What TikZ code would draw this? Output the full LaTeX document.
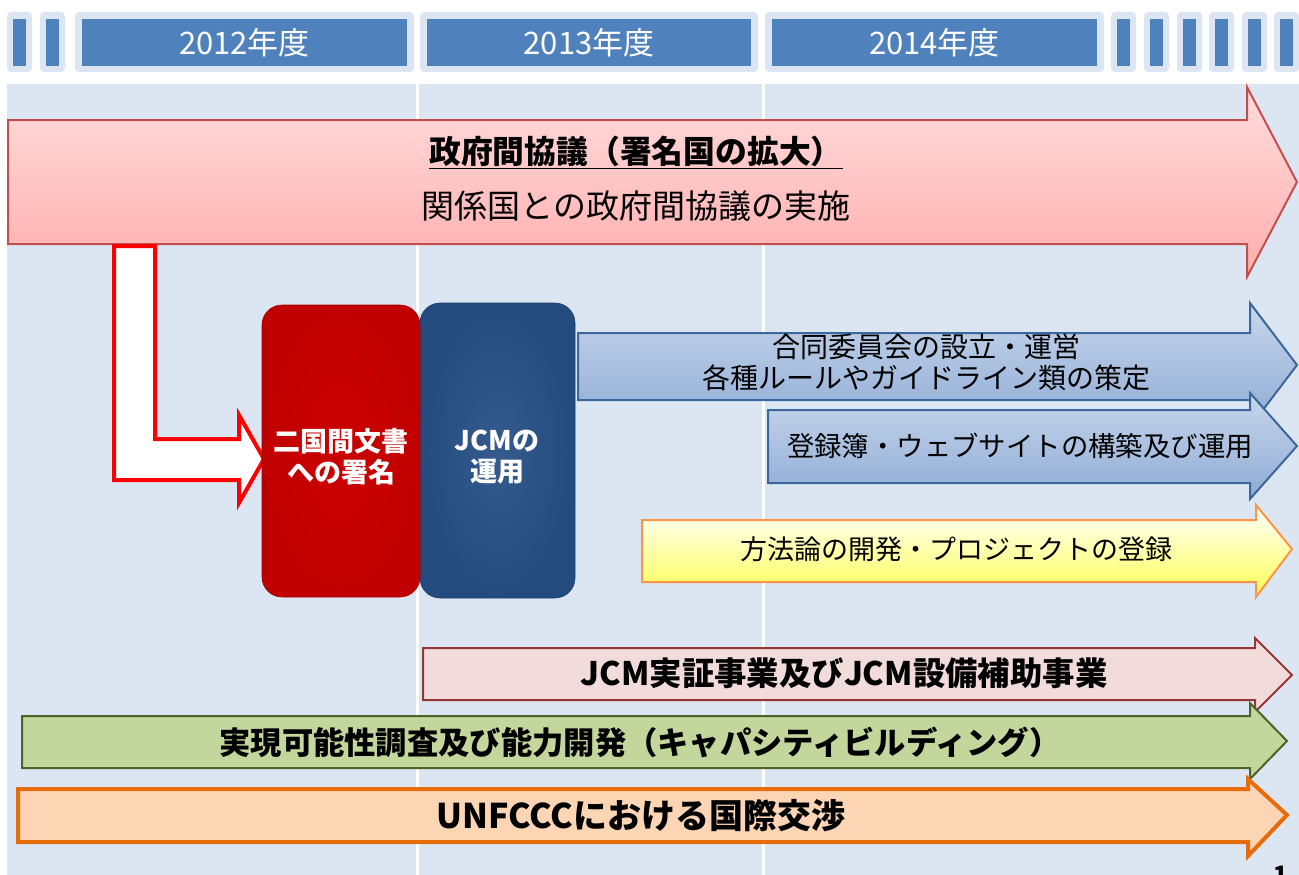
\documentclass[tikz,border=0pt]{standalone}
\usepackage{fontspec}
\setmainfont{Noto Sans CJK JP}
\definecolor{panel}{HTML}{DCE6F2}
\definecolor{hdr}{HTML}{4F81BD}
\definecolor{pinktop}{HTML}{FFDCDC}
\definecolor{pinkbot}{HTML}{FFAEAE}
\definecolor{pinkdraw}{HTML}{C0504D}
\definecolor{bluetop}{HTML}{C8D7EC}
\definecolor{bluebot}{HTML}{8EABD5}
\definecolor{bluedraw}{HTML}{3C679E}
\definecolor{yeldraw}{HTML}{F79646}
\definecolor{yelbot}{HTML}{FFFF55}
\definecolor{jcmfill}{HTML}{F2DCDB}
\definecolor{jcmdraw}{HTML}{953735}
\definecolor{grnfill}{HTML}{C3D69B}
\definecolor{grndraw}{HTML}{4F6228}
\definecolor{orfill}{HTML}{FCD5B5}
\definecolor{ordraw}{HTML}{E46C0A}
\definecolor{boxred}{HTML}{CC0000}
\definecolor{boxblue}{HTML}{264F85}
\tikzset{
  hdrouter/.style={fill=panel,rounded corners=4pt},
  hdrinner/.style={fill=hdr},
  hdrtext/.style={text=white,font=\fontsize{31}{34}\selectfont},
  arrtext/.style={text=black,align=center,inner sep=0pt},
  pinkarrow/.style={draw=pinkdraw,line width=2pt,top color=pinktop,bottom color=pinkbot,line join=miter},
  bluearrow/.style={draw=bluedraw,line width=2pt,top color=bluetop,bottom color=bluebot,line join=miter},
  yelarrow/.style={draw=yeldraw,line width=2pt,top color=white,bottom color=yelbot,line join=miter},
  jcmarrow/.style={draw=jcmdraw,line width=2pt,fill=jcmfill,line join=miter},
  grnarrow/.style={draw=grndraw,line width=2pt,fill=grnfill,line join=miter},
  orarrow/.style={draw=ordraw,line width=4pt,fill=orfill,line join=miter},
  bigbox/.style={rounded corners=20pt,line width=0.6pt},
  boxtext/.style={text=white,align=center,font=\bfseries\fontsize{27}{31}\selectfont}
}
\begin{document}
\begin{tikzpicture}[x=1pt,y=-1pt]
\useasboundingbox (0,0) rectangle (1299,875);
\fill[white] (0,0) rectangle (1299,875);
% header
\foreach \a in {7,40,1111,1144,1177,1209,1242,1274}{
  \fill[hdrouter] (\a,12) rectangle ++(25,60);
  \fill[hdrinner] (\a+6,19) rectangle ++(13,47);
}
\fill[hdrouter] (75,12) rectangle (414,72);
\fill[hdrinner] (82,19) rectangle (407,66);
\fill[hdrouter] (420,12) rectangle (758,72);
\fill[hdrinner] (427,19) rectangle (751,66);
\fill[hdrouter] (765,12) rectangle (1104,72);
\fill[hdrinner] (772,19) rectangle (1097,66);
\node[hdrtext] (y2012) at (244.5,43) {2012年度};
\node[hdrtext] (y2013) at (589,43) {2013年度};
\node[hdrtext] (y2014) at (934.5,43) {2014年度};
% panel columns
\fill[panel] (7,84) rectangle (416,875);
\fill[panel] (419,84) rectangle (762,875);
\fill[panel] (765,84) rectangle (1299,875);
% pink arrow
\draw[pinkarrow] (8,120) -- (1247,120) -- (1247,87) -- (1297,182) -- (1247,277) -- (1247,244) -- (8,244) -- cycle;
\node[arrtext,font=\bfseries\fontsize{31.8}{34}\selectfont] (gov1) at (636,152) {\underline{政府間協議（署名国の拡大）}};
\node[arrtext,font=\fontsize{33}{35}\selectfont] (gov2) at (636,206) {関係国との政府間協議の実施};
% L arrow
\draw[draw=red,line width=4pt,fill=white,line join=miter] (114,246) -- (155,246) -- (155,439) -- (239,439) -- (239,415) -- (264,459) -- (239,503) -- (239,480) -- (114,480) -- cycle;
% boxes
\shade[bigbox,draw=boxblue!80!black,inner color=boxblue!93!white,outer color=boxblue!95!black] (420,303) rectangle (575,598);
\shade[bigbox,draw=boxred!80!black,inner color=boxred,outer color=boxred!94!black] (262,305) rectangle (420,597);
\node[boxtext] (sign) at (341,457) {二国間文書\\への署名};
\node[boxtext] (jcm) at (497,457) {JCMの\\運用};
% blue arrow 1
\draw[bluearrow] (578,333) -- (1250,333) -- (1250,303) -- (1297,365) -- (1250,427) -- (1250,400) -- (578,400) -- cycle;
\node[arrtext,font=\fontsize{28}{31}\selectfont] (joint) at (926,362) {合同委員会の設立・運営\\各種ルールやガイドライン類の策定};
% blue arrow 2
\draw[bluearrow] (768,410) -- (1250,410) -- (1250,393) -- (1297,446) -- (1250,499) -- (1250,483) -- (768,483) -- cycle;
\node[arrtext,font=\fontsize{27.4}{30}\selectfont] (reg) at (1020,446) {登録簿・ウェブサイトの構築及び運用};
% yellow arrow
\draw[yelarrow] (642,520) -- (1256,520) -- (1256,505) -- (1292,549) -- (1256,597) -- (1256,582) -- (642,582) -- cycle;
\node[arrtext,font=\fontsize{27}{30}\selectfont] (meth) at (956,549) {方法論の開発・プロジェクトの登録};
% JCM arrow
\draw[jcmarrow] (423,648) -- (1255,648) -- (1255,638) -- (1292,675) -- (1255,712) -- (1255,700) -- (423,700) -- cycle;
\node[arrtext,font=\bfseries\fontsize{32.4}{34}\selectfont] (demo) at (844,673) {JCM実証事業及びJCM設備補助事業};
% green arrow
\draw[grnarrow] (22,716) -- (1250,716) -- (1250,703) -- (1287,741) -- (1250,779) -- (1250,768) -- (22,768) -- cycle;
\node[arrtext,font=\bfseries\fontsize{31.3}{33}\selectfont] (fs) at (640,742) {実現可能性調査及び能力開発（キャパシティビルディング）};
% orange arrow
\draw[orarrow] (18,789) -- (1248,789) -- (1248,779) -- (1287,815) -- (1248,856) -- (1248,842) -- (18,842) -- cycle;
\node[arrtext,font=\bfseries\fontsize{34}{36}\selectfont] (unf) at (641,816) {UNFCCCにおける国際交渉};
% page number fragment
\begin{scope}
\clip (0,0) rectangle (1299,875);
\node[font=\bfseries\fontsize{24}{26}\selectfont,anchor=north,inner sep=0pt] (pg) at (1281,866) {1};
\end{scope}
\end{tikzpicture}
\end{document}
